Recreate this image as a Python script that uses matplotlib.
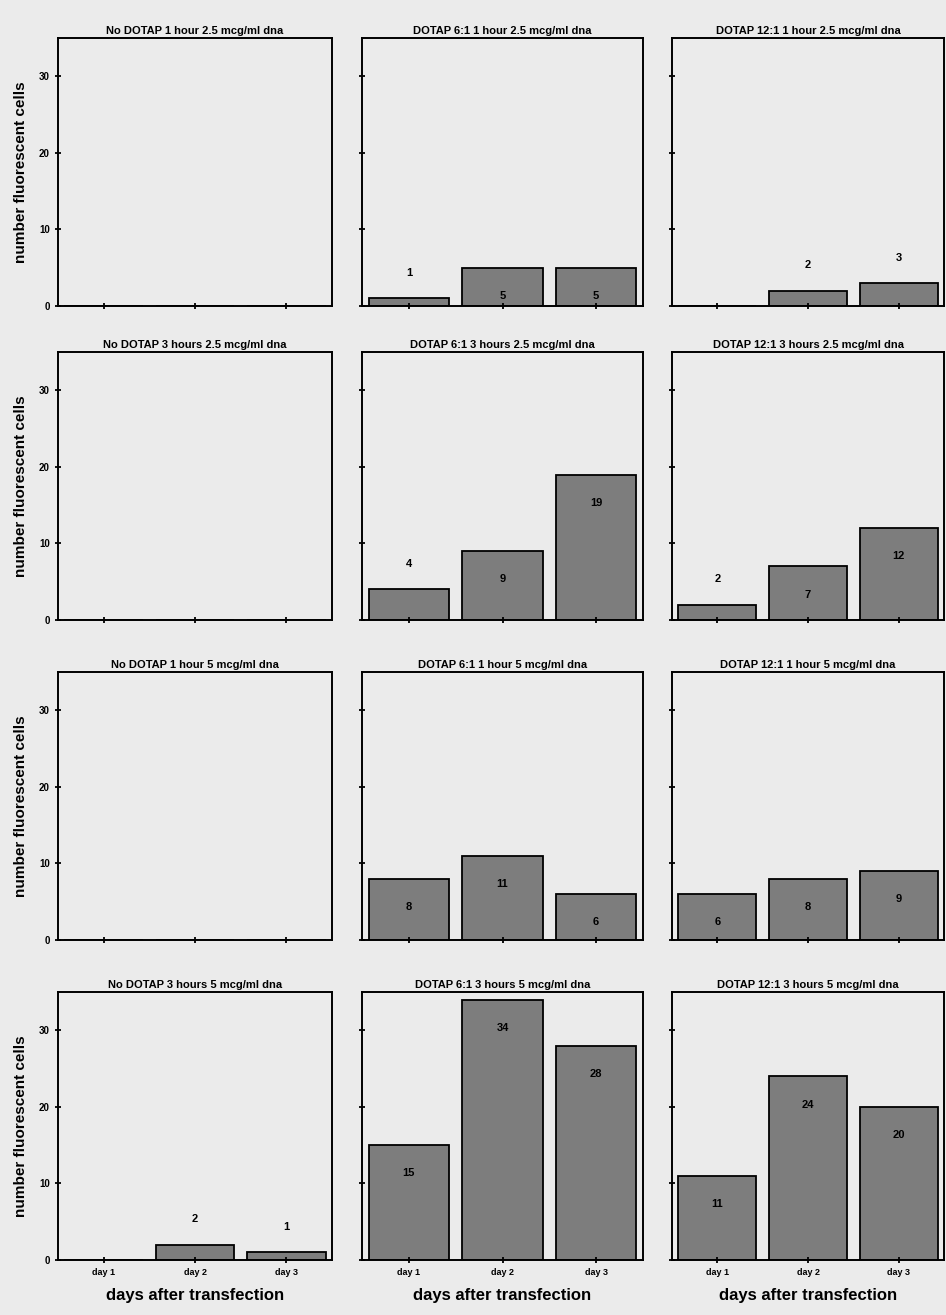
import numpy as np
import matplotlib
matplotlib.use('Agg')
import matplotlib.pyplot as plt

plt.rcParams['font.family'] = ['Liberation Sans Narrow', 'Liberation Sans', 'DejaVu Sans']
plt.rcParams['font.weight'] = 'bold'

# 数据
days = ['day 1', 'day 2', 'day 3']

titles = [
    ['No DOTAP 1 hour 2.5 mcg/ml dna', 'DOTAP 6:1 1 hour 2.5 mcg/ml dna', 'DOTAP 12:1 1 hour 2.5 mcg/ml dna'],
    ['No DOTAP 3 hours 2.5 mcg/ml dna', 'DOTAP 6:1 3 hours 2.5 mcg/ml dna', 'DOTAP 12:1 3 hours 2.5 mcg/ml dna'],
    ['No DOTAP 1 hour 5 mcg/ml dna', 'DOTAP 6:1 1 hour 5 mcg/ml dna', 'DOTAP 12:1 1 hour 5 mcg/ml dna'],
    ['No DOTAP 3 hours 5 mcg/ml dna', 'DOTAP 6:1 3 hours 5 mcg/ml dna', 'DOTAP 12:1 3 hours 5 mcg/ml dna'],
]

no_dotap_1h_25 = [0, 0, 0]
dotap6_1h_25 = [1, 5, 5]
dotap12_1h_25 = [0, 2, 3]
no_dotap_3h_25 = [0, 0, 0]
dotap6_3h_25 = [4, 9, 19]
dotap12_3h_25 = [2, 7, 12]
no_dotap_1h_5 = [0, 0, 0]
dotap6_1h_5 = [8, 11, 6]
dotap12_1h_5 = [6, 8, 9]
no_dotap_3h_5 = [0, 2, 1]
dotap6_3h_5 = [15, 34, 28]
dotap12_3h_5 = [11, 24, 20]

values = [
    [no_dotap_1h_25, dotap6_1h_25, dotap12_1h_25],
    [no_dotap_3h_25, dotap6_3h_25, dotap12_3h_25],
    [no_dotap_1h_5, dotap6_1h_5, dotap12_1h_5],
    [no_dotap_3h_5, dotap6_3h_5, dotap12_3h_5],
]

bg = '#ebebeb'
W, H = 946, 1315
fig = plt.figure(figsize=(W / 100, H / 100), dpi=100, facecolor=bg)

# 子图位置 (像素)
col_left = [58, 362, 672]
col_w = [274, 281, 272]
row_top = [38, 352, 672, 992]
row_h = 268

x = np.arange(3)
for r in range(4):
    for c in range(3):
        ax = fig.add_axes([col_left[c] / W, 1 - (row_top[r] + row_h) / H, col_w[c] / W, row_h / H])
        ax.set_facecolor(bg)
        vals = values[r][c]
        ax.bar(x, vals, width=0.86, color='#7d7d7d', edgecolor='black', linewidth=1.3)
        for xi, v in zip(x, vals):
            if v == 0:
                continue
            ty = v + 3.3 if v < 5 else v - 3.7
            ax.text(xi, ty, str(v), ha='center', va='center', fontsize=8, fontweight='bold')
        ax.set_xlim(-0.5, 2.5)
        ax.set_ylim(0, 35)
        ax.set_yticks([0, 10, 20, 30])
        ax.set_xticks(x)
        for s in ax.spines.values():
            s.set_linewidth(1.4)
        ax.tick_params(axis='both', direction='inout', length=5, width=1.3, labelsize=7)
        if c == 0:
            ax.set_ylabel('number fluorescent cells', fontsize=11, fontweight='bold', labelpad=8)
        else:
            ax.set_yticklabels([])
        if r == 3:
            ax.set_xticklabels(days, fontsize=6.5, fontweight='bold')
            ax.set_xlabel('days after transfection', fontsize=12, fontweight='bold', labelpad=8)
        else:
            ax.set_xticklabels([])
        ax.set_title(titles[r][c], fontsize=8, fontweight='bold', pad=3)

plt.savefig('out.png', dpi=100, facecolor=bg)
